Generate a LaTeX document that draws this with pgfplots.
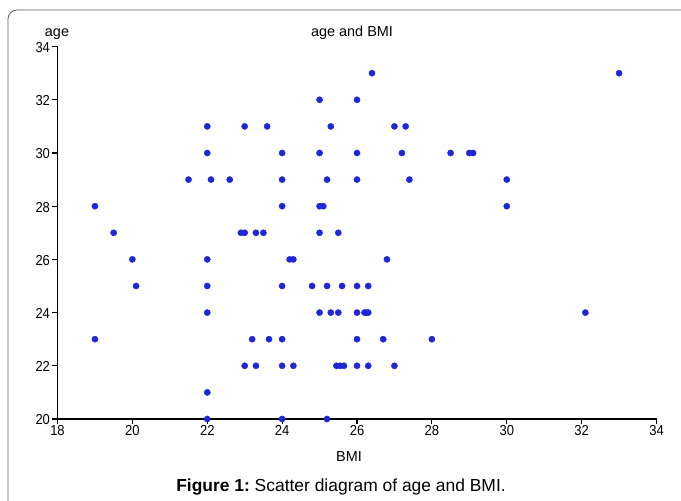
\documentclass[border=0pt]{standalone}
\usepackage{pgfplots}
\pgfplotsset{compat=1.18}
\usepackage{fontspec}
\setmainfont{Liberation Sans}
\newfontfamily\narrowfont{Liberation Sans}[FakeStretch=0.9]
\definecolor{dotblue}{RGB}{30,38,215}
\definecolor{framegray}{RGB}{90,90,90}
\begin{document}
\begin{tikzpicture}[x=1bp,y=1bp]
\useasboundingbox (0,0) rectangle (681,501);
\draw[framegray, line width=0.8bp, rounded corners=9bp] (8,-20) rectangle (700,491);
\begin{axis}[
  at={(57.5bp,82bp)}, anchor=south west,
  scale only axis, width=599bp, height=372.4bp,
  xmin=18, xmax=34, ymin=20, ymax=34,
  xtick={18,20,...,34}, ytick={20,22,...,34},
  axis x line*=bottom, axis y line*=left,
  tick align=outside, major tick length=5bp,
  axis line style={line width=1.1bp, black},
  every tick/.style={line width=1.1bp, black},
  /pgf/number format/assume math mode=true,
  tick label style={font=\narrowfont\fontsize{14.5}{16}\selectfont},
  xticklabel style={yshift=2bp},
  yticklabel style={xshift=1bp, yshift=-1bp},
  axis on top,
]
\addplot[only marks, mark=*, mark size=3.1bp, color=dotblue, mark options={draw=dotblue, fill=dotblue}] coordinates {
(22,31) (23,31) (23.6,31) (25.3,31) (27,31) (27.3,31)
(26.4,33) (33,33)
(25,32) (26,32)
(22,30) (24,30) (25,30) (26,30) (27.2,30) (28.5,30) (29.0,30) (29.1,30)
(21.5,29) (22.1,29) (22.6,29) (24,29) (25.2,29) (26,29) (27.4,29) (30,29)
(19,28) (24,28) (25.0,28) (25.1,28) (30,28)
(19.5,27) (22.9,27) (23.0,27) (23.3,27) (23.5,27) (25,27) (25.5,27)
(20,26) (22,26) (24.2,26) (24.3,26) (26.8,26)
(20.1,25) (22,25) (24,25) (24.8,25) (25.2,25) (25.6,25) (26,25) (26.3,25)
(22,24) (25,24) (25.3,24) (25.5,24) (26,24) (26.2,24) (26.25,24) (26.3,24) (32.1,24)
(19,23) (23.2,23) (23.65,23) (24,23) (26,23) (26.7,23) (28,23)
(23,22) (23.3,22) (24,22) (24.3,22) (25.45,22) (25.55,22) (25.65,22) (26,22) (26.3,22) (27,22)
(22,21)
(22,20) (24,20) (25.2,20)
};
\end{axis}
\node[font=\fontsize{14.5}{17}\selectfont, anchor=base] at (57,464) {age};
\node[font=\fontsize{14.5}{17}\selectfont, anchor=base] at (352,464) {age and BMI};
\node[font=\fontsize{14.5}{17}\selectfont, anchor=base] at (349,39) {BMI};
\node[font=\fontsize{17.5}{20}\selectfont, anchor=base, inner xsep=0pt] at (341,9.5) {\textbf{Figure 1:}\ Scatter diagram of age and BMI.};
\end{tikzpicture}
\end{document}
